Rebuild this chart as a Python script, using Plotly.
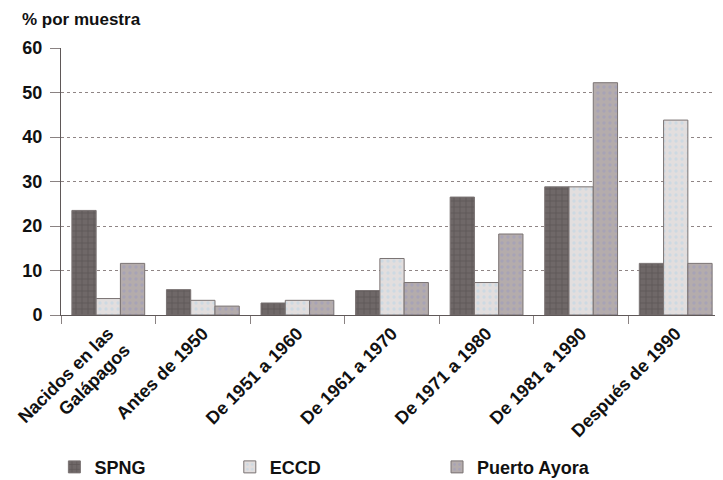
import plotly.graph_objects as go

# categories and values (% por muestra)
categorias = ["Nacidos en las<br>Galápagos", "Antes de 1950", "De 1951 a 1960",
              "De 1961 a 1970", "De 1971 a 1980", "De 1981 a 1990", "Después de 1990"]
spng = [23.5, 5.7, 2.7, 5.5, 26.5, 28.8, 11.6]
eccd = [3.7, 3.3, 3.3, 12.7, 7.3, 28.8, 43.8]
puerto_ayora = [11.6, 2.0, 3.3, 7.3, 18.2, 52.2, 11.6]

font_family = "Liberation Sans, Arial, sans-serif"
txt = dict(family=font_family, size=18, color="#111111", weight="bold")

fig = go.Figure()

series = [
    ("SPNG", spng, "#6f6868", "+", "#4a4444", "legend"),
    ("ECCD", eccd, "#e2dede", ".", "#b8d4e6", "legend2"),
    ("Puerto Ayora", puerto_ayora, "#b4acac", ".", "#9a9ac0", "legend3"),
]
for name, vals, color, shape, fg, leg in series:
    fig.add_trace(go.Bar(
        x=categorias, y=vals, name=name, legend=leg,
        marker=dict(color=color,
                    line=dict(color="#7a7373", width=1),
                    pattern=dict(shape=shape, fgcolor=fg, size=6, solidity=0.25)),
    ))

# page body adds an 8px offset, so the figure is a bit smaller than the window
leg_common = dict(orientation="h", y=-0.57, yanchor="middle", xanchor="left",
                  font=txt, itemwidth=30, bgcolor="rgba(0,0,0,0)")
fig.update_layout(
    width=715, height=472,
    margin=dict(l=53, r=0, t=40, b=165, autoexpand=False),
    paper_bgcolor="white", plot_bgcolor="white",
    barmode="group", bargap=0.23, bargroupgap=0,
    font=txt,
    showlegend=True,
    legend=dict(x=-0.01, **leg_common),
    legend2=dict(x=0.255, **leg_common),
    legend3=dict(x=0.568, **leg_common),
    annotations=[dict(text="% por muestra", xref="paper", yref="paper",
                      x=-0.062, y=1.108, xanchor="left", yanchor="middle",
                      showarrow=False, font=dict(family=font_family, size=17,
                                                 color="#111111", weight="bold"))],
)

fig.update_yaxes(range=[0, 60], dtick=10, showgrid=True, gridcolor="#8f8585",
                 griddash="dot", gridwidth=1, showline=True, linecolor="#5f5858",
                 linewidth=1, ticks="outside", ticklen=10, tickcolor="#8a8282",
                 ticklabelstandoff=4, tickfont=txt, zeroline=False, automargin=False)
fig.update_xaxes(range=[-0.5, 6.5], tickangle=-45, tickson="boundaries",
                 ticks="outside", ticklen=8, tickcolor="#8a8282", showgrid=False,
                 showline=True, linecolor="#5f5858", linewidth=1,
                 tickfont=txt, automargin=False)

fig.write_html("out.html")
